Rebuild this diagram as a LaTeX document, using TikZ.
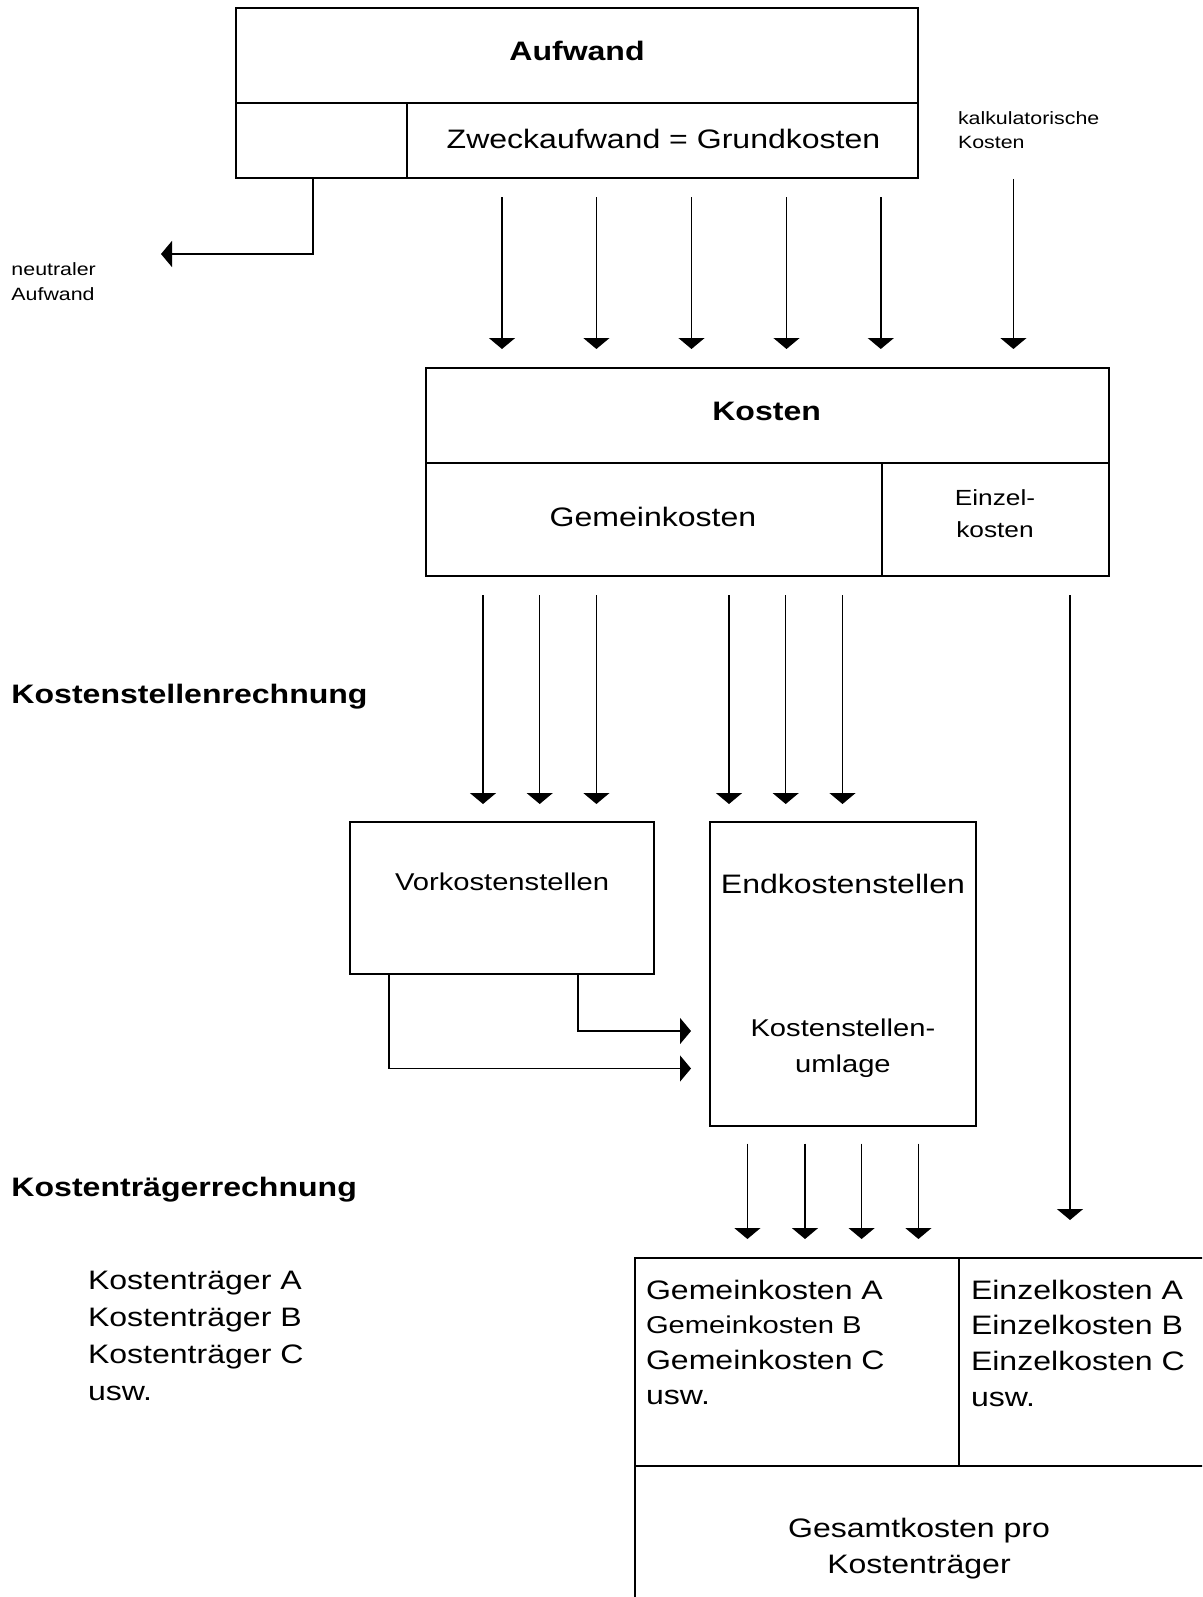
\documentclass[tikz,border=0pt]{standalone}
\usepackage{fontspec}
\setmainfont{Liberation Sans}[FakeStretch=1.2]
\usetikzlibrary{arrows.meta}
\begin{document}
\begin{tikzpicture}[x=1pt,y=-1pt,
  boxn/.style={draw, line width=2pt, inner sep=0pt, outer sep=0pt, anchor=north west},
  divl/.style={line width=2pt},
  arr/.style={line width=1.5pt, -{Triangle[length=11pt,width=26pt]}},
  txt/.style={inner sep=0pt, outer sep=0pt},
  fA/.style={txt, font=\fontsize{26.7}{32}\selectfont},
  fB/.style={txt, font=\fontsize{24.3}{29}\selectfont},
  fC/.style={txt, font=\fontsize{21.9}{26}\selectfont},
  fD/.style={txt, font=\fontsize{17.8}{21}\selectfont}]
\useasboundingbox (0,0) rectangle (1202,1597);
\clip (0,0) rectangle (1202,1597);
\fill[white] (0,0) rectangle (1202,1597);

% ---- Aufwand box
\node[boxn, minimum width=682pt, minimum height=170pt] (aufw) at (236,8) {};
\coordinate (aufwL) at (236,102.7);
\coordinate (aufwR) at (918,102.7);
\draw[divl] (aufwL) -- (aufwR);
\coordinate (aufwV1) at (407,102.7);
\coordinate (aufwV2) at (407,178);
\draw[divl] (aufwV1) -- (aufwV2);
\node[fA, anchor=base] (tAufwand) at (577,61) {\bfseries Aufwand};
\node[fA, anchor=base] (tZweck) at (663.5,148.3) {Zweckaufwand = Grundkosten};
\node[fD, anchor=base west] (tKalk1) at (958,124.5) {kalkulatorische};
\node[fD, anchor=base west] (tKalk2) at (958,149) {Kosten};
\node[fD, anchor=base west] (tNeut1) at (11.5,276) {neutraler};
\node[fD, anchor=base west] (tNeut2) at (11.5,300.5) {Aufwand};

% neutral connector
\coordinate (nA) at (313,178);
\coordinate (nB) at (161,254);
\draw[arr] (nA) |- (nB);

% arrows into Kosten
\foreach \x in {502,596.4,691.5,786.5,880.8} {
  \draw[arr] (\x,197.5) -- (\x,349);
}
\coordinate (kA) at (1013.4,179);
\coordinate (kB) at (1013.4,349);
\draw[arr] (kA) -- (kB);

% ---- Kosten box
\node[boxn, minimum width=682.5pt, minimum height=208pt] (kost) at (426,368) {};
\coordinate (kostL) at (426,463);
\coordinate (kostR) at (1108.5,463);
\draw[divl] (kostL) -- (kostR);
\coordinate (kostV1) at (881.6,463);
\coordinate (kostV2) at (881.6,576);
\draw[divl] (kostV1) -- (kostV2);
\node[fA, anchor=base] (tKosten) at (766.6,420) {\bfseries Kosten};
\node[fA, anchor=base] (tGemein) at (653,526) {Gemeinkosten};
\node[fC, anchor=base] (tEinz1) at (995,505.5) {Einzel-};
\node[fC, anchor=base] (tEinz2) at (995,537.5) {kosten};

% arrows into Kostenstellen
\foreach \x in {483,539.7,596.4,729,785.7,842.5} {
  \draw[arr] (\x,595) -- (\x,804);
}
\coordinate (eA) at (1070,595);
\coordinate (eB) at (1070,1220);
\draw[arr] (eA) -- (eB);

% section titles
\node[fA, anchor=base west] (tKSR) at (11.5,703.6) {\bfseries Kostenstellenrechnung};
\node[fA, anchor=base west] (tKTR) at (11.5,1196.7) {\bfseries Kostenträgerrechnung};

% ---- Vorkostenstellen
\node[boxn, minimum width=303.7pt, minimum height=151.8pt] (vork) at (350.3,822.4) {};
\node[fB, anchor=base] (tVork) at (502,890) {Vorkostenstellen};

% ---- Endkostenstellen
\node[boxn, minimum width=265.8pt, minimum height=303.1pt] (endk) at (710,822.4) {};
\node[fA, anchor=base] (tEnd) at (842.9,893) {Endkostenstellen};
\node[fB, anchor=base] (tUml1) at (842.9,1036) {Kostenstellen-};
\node[fB, anchor=base] (tUml2) at (842.9,1072.5) {umlage};

% connectors Vork -> End
\coordinate (v1A) at (578,974.2);
\coordinate (v1B) at (691,1031);
\draw[arr] (v1A) |- (v1B);
\coordinate (v2A) at (389,974.2);
\coordinate (v2B) at (691,1068.5);
\draw[arr] (v2A) |- (v2B);

% arrows into Kostentraeger box
\foreach \x in {747.4,805,861.6,918.4} {
  \draw[arr] (\x,1143.7) -- (\x,1239);
}

% Kostentraeger list
\node[fA, anchor=base west] (kt1) at (88,1289.3) {Kostenträger A};
\node[fA, anchor=base west] (kt2) at (88,1326.7) {Kostenträger B};
\node[fA, anchor=base west] (kt3) at (88,1363.3) {Kostenträger C};
\node[fA, anchor=base west] (kt4) at (88,1400) {usw.};

% ---- bottom box (clipped at right and bottom)
\node[boxn, minimum width=700pt, minimum height=400pt] (ges) at (634.8,1258) {};
\coordinate (gesV1) at (959,1258);
\coordinate (gesV2) at (959,1466);
\draw[divl] (gesV1) -- (gesV2);
\coordinate (gesL) at (634.8,1466);
\coordinate (gesR) at (1210,1466);
\draw[divl] (gesL) -- (gesR);

\node[fA, anchor=base west] (g1) at (646,1299) {Gemeinkosten A};
\node[fB, anchor=base west] (g2) at (646,1333) {Gemeinkosten B};
\node[fA, anchor=base west] (g3) at (646,1369) {Gemeinkosten C};
\node[fA, anchor=base west] (g4) at (646,1404) {usw.};

\node[fA, anchor=base west] (e1) at (971,1299) {Einzelkosten A};
\node[fA, anchor=base west] (e2) at (971,1334) {Einzelkosten B};
\node[fA, anchor=base west] (e3) at (971,1370) {Einzelkosten C};
\node[fA, anchor=base west] (e4) at (971,1406) {usw.};

\node[fA, anchor=base] (gs1) at (919,1537) {Gesamtkosten pro};
\node[fA, anchor=base] (gs2) at (919,1573) {Kostenträger};
\end{tikzpicture}
\end{document}
